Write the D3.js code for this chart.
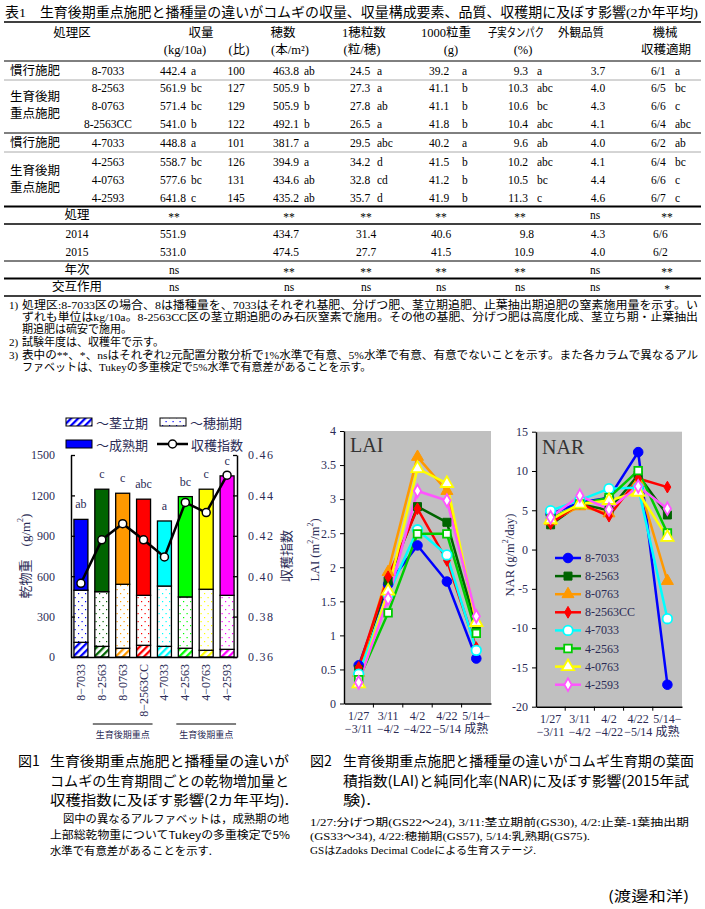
<!DOCTYPE html>
<html><head><meta charset="utf-8">
<script src="https://cdn.jsdelivr.net/npm/d3@7"></script>
<style>body{margin:0;background:#fff}svg{display:block}</style>
</head><body>
<svg id="c" width="705" height="909"></svg>
<script>
// ================= DATA =================
const tableTitle = "表1　生育後期重点施肥と播種量の違いがコムギの収量、収量構成要素、品質、収穫期に及ぼす影響(2か年平均)";
const treatments = ["8-7033","8-2563","8-0763","8-2563CC","4-7033","4-2563","4-0763","4-2593"];
const yieldVals = ["442.4","561.9","571.4","541.0","448.8","558.7","577.6","641.8"];
const yieldLetters = ["a","bc","bc","b","a","bc","bc","c"];
const yieldRatio = ["100","127","129","122","101","126","131","145"];
const earVals = ["463.8","505.9","505.9","492.1","381.7","394.9","434.6","435.2"];
const earLetters = ["ab","b","b","b","a","a","ab","ab"];
const grainVals = ["24.5","27.3","27.8","26.5","29.5","34.2","32.8","35.7"];
const grainLetters = ["a","a","ab","a","abc","d","cd","d"];
const kernelVals = ["39.2","41.1","41.1","41.8","40.2","41.5","41.2","41.9"];
const kernelLetters = ["a","b","b","b","a","b","b","b"];
const proteinVals = ["9.3","10.3","10.6","10.4","9.6","10.2","10.5","11.3"];
const proteinLetters = ["a","abc","bc","abc","ab","abc","bc","c"];
const appearanceVals = ["3.7","4.0","4.3","4.1","4.0","4.1","4.4","4.6"];
const harvestDates = ["6/1","6/5","6/6","6/4","6/2","6/4","6/6","6/7"];
const harvestLetters = ["a","bc","c","abc","ab","bc","c","c"];
const anovaTreatment = ["**","**","**","**","**","ns","**"];
const anovaYear = ["ns","**","**","**","**","ns","**"];
const anovaInteraction = ["ns","ns","ns","ns","ns","ns","*"];
const years = ["2014","2015"];
const year2014 = ["551.9","434.7","31.4","40.6","9.8","4.3","6/6"];
const year2015 = ["531.0","474.5","27.7","41.5","10.9","4.0","6/2"];
const footnotes = [
  "処理区:8-7033区の場合、8は播種量を、7033はそれぞれ基肥、分げつ肥、茎立期追肥、止葉抽出期追肥の窒素施用量を示す。い",
  "ずれも単位はkg/10a。8-2563CC区の茎立期追肥のみ石灰窒素で施用。その他の基肥、分げつ肥は高度化成、茎立ち期・止葉抽出",
  "期追肥は硫安で施用。",
  "試験年度は、収穫年で示す。",
  "表中の**、*、nsはそれぞれ2元配置分散分析で1%水準で有意、5%水準で有意、有意でないことを示す。また各カラムで異なるアル",
  "ファベットは、Tukeyの多重検定で5%水準で有意差があることを示す。"
];

// Figure 1 (dry matter increments, g/m2, and harvest index)
const stemInc = [109, 79, 65, 87, 79, 65, 50, 57];
const headingInc = [387, 406, 475, 371, 448, 381, 453, 401];
const maturityInc = [526, 761, 676, 714, 483, 745, 743, 887];
const harvestIndex = [0.3965, 0.418, 0.426, 0.418, 0.4095, 0.4365, 0.4315, 0.450];
const sigLetters = ["ab","c","c","abc","a","bc","c","c"];
const barColors = ["#0000ff","#006400","#ff9900","#ff0000","#00ffff","#00ff00","#ffff00","#ff00ff"];
const dmTicks = [0, 300, 600, 900, 1200, 1500];
const hiTicks = [0.36, 0.38, 0.40, 0.42, 0.44, 0.46];

// Figure 2 (LAI, NAR)
const periodsA = ["1/27","3/11","4/2","4/22","5/14−"];
const periodsB = ["−3/11","−4/2","−4/22","−5/14","成熟"];
const lai7033_8 = [0.56, 1.75, 2.32, 1.79, 0.66];
const lai2563_8 = [0.50, 1.80, 2.89, 2.66, 1.12];
const lai0763_8 = [0.45, 1.93, 3.62, 3.12, 1.20];
const lai2563CC_8 = [0.53, 1.86, 2.86, 2.10, 0.82];
const lai7033_4 = [0.43, 1.60, 2.55, 2.18, 0.78];
const lai2563_4 = [0.35, 1.33, 2.49, 2.49, 1.03];
const lai0763_4 = [0.29, 1.65, 3.45, 3.23, 1.19];
const lai2593_4 = [0.31, 1.54, 3.12, 2.98, 1.28];
const nar7033_8 = [4.5, 6.0, 6.6, 12.4, -17.2];
const nar2563_8 = [3.15, 5.8, 5.0, 9.5, 4.4];
const nar0763_8 = [3.6, 5.5, 4.6, 8.6, -4.0];
const nar2563CC_8 = [3.3, 5.9, 4.25, 9.05, 7.95];
const nar7033_4 = [4.95, 6.3, 7.75, 7.9, -8.8];
const nar2563_4 = [3.9, 5.8, 6.6, 10.05, 2.1];
const nar0763_4 = [3.8, 5.8, 6.25, 7.3, 1.55];
const nar2593_4 = [4.1, 6.85, 5.1, 8.05, 5.2];
const laiTicks = [0, 0.5, 1, 1.5, 2, 2.5, 3, 3.5, 4];
const narTicks = [-20, -15, -10, -5, 0, 5, 10, 15];
const lineColors = ["#0000ff","#006400","#ff9900","#ff0000","#00ffff","#00cc00","#ffff00","#ff55ff"];

// ================= STYLE =================
const MIX = "'Liberation Serif','Noto Sans CJK JP',serif";
const JP = "'Noto Sans CJK JP',sans-serif";
const SERIF = "'Liberation Serif','DejaVu Serif',serif";
const AX = "#2b2b55";

const svg = d3.select("#c");
svg.append("rect").attr("width",705).attr("height",909).attr("fill","#fff");
const defs = svg.append("defs");

function T(g, x, y, s, o = {}) {
  const t = g.append("text").attr("x", x).attr("y", y)
    .attr("dominant-baseline", "central")
    .attr("font-family", o.ff || MIX).attr("font-size", o.fs || 12)
    .attr("fill", o.fill || "#000")
    .attr("text-anchor", o.anchor || "start").text(s);
  if (o.len) t.attr("textLength", o.len).attr("lengthAdjust", "spacingAndGlyphs");
  return t;
}

// ================= TABLE =================
const tb = svg.append("g");
T(tb, 5, 12, tableTitle, {ff: MIX, fs: 13.5, len: 693});
const hLines = [[22,1.6,"#000"],[61,1,"#000"],[80,1,"#aaa"],[133,1,"#000"],[152,1,"#aaa"],
  [206.5,2,"#000"],[224,1.5,"#000"],[261,1,"#000"],[278.5,2,"#000"],[296,1.5,"#000"]];
hLines.forEach(([y,w,c]) => tb.append("line").attr("x1",4).attr("x2",701).attr("y1",y).attr("y2",y).attr("stroke",c).attr("stroke-width",w));

const hdr = [["処理区",72,33],["収量",201,33],["(kg/10a)",185,50],["(比)",239,50],["穂数",283,33],["(本/m²)",290,50],
  ["1穂粒数",364,33],["(粒/穂)",362,50],["1000粒重",446,33],["(g)",451,50],["(%)",523,50],
  ["機械",665,33],["収穫適期",666,50]];
hdr.forEach(([s,x,y]) => T(tb, x, y, s, {anchor:"middle", fs:12.5}));
T(tb, 488, 33, "子実タンパク", {fs:12, len:56});
T(tb, 558, 33, "外観品質", {fs:12, len:46});

const rowY = [71, 88, 106, 124, 143, 162, 180, 198];
[["慣行施肥",71],["生育後期",97],["重点施肥",114],["慣行施肥",143],["生育後期",171],["重点施肥",188]]
  .forEach(([s,y]) => T(tb, 10, y, s, {fs:12.5}));
const NF = 11.5;
const cols = [
  {vals: yieldVals, lets: yieldLetters, vx:160, lx:191},
  {vals: yieldRatio, vx:236, anchor:"middle"},
  {vals: earVals, lets: earLetters, vx:273, lx:304},
  {vals: grainVals, lets: grainLetters, vx:350, lx:377},
  {vals: kernelVals, lets: kernelLetters, vx:429, lx:462},
  {vals: proteinVals, lets: proteinLetters, vx:528, lx:537, anchor:"end"},
  {vals: appearanceVals, vx:598, anchor:"middle"},
  {vals: harvestDates, lets: harvestLetters, vx:651, lx:675}
];
treatments.forEach((tr,i) => {
  T(tb, 108, rowY[i], tr, {anchor:"middle", fs:NF});
  cols.forEach(c => {
    T(tb, c.vx, rowY[i], c.vals[i], {fs:NF, anchor:c.anchor||"start"});
    if (c.lets) T(tb, c.lx, rowY[i], c.lets[i], {fs:NF});
  });
});
const sigX = [174, 289, 366, 441, 520, 595, 667];
[[anovaTreatment,"処理",215],[anovaYear,"年次",270],[anovaInteraction,"交互作用",287]].forEach(([arr,lab,y]) => {
  T(tb, 77, y, lab, {anchor:"middle", fs:12.5});
  arr.forEach((s,j) => T(tb, sigX[j], y + (s.includes("*")?2:0), s, {anchor:"middle", fs:NF}));
});
const yrX = [[160,"start"],[273,"start"],[356,"start"],[431,"start"],[534,"end"],[598,"middle"],[653,"start"]];
[[year2014,234],[year2015,252]].forEach(([arr,y],k) => {
  T(tb, 77, y, years[k], {anchor:"middle", fs:NF});
  arr.forEach((s,j) => T(tb, yrX[j][0], y, s, {anchor:yrX[j][1], fs:NF}));
});
// footnotes
T(tb, 9, 305, "1)", {fs:11});
T(tb, 22, 305, footnotes[0], {fs:11, len:676});
T(tb, 22, 317, footnotes[1], {fs:11, len:676});
T(tb, 22, 329, footnotes[2], {fs:11});
T(tb, 9, 342, "2)", {fs:11});
T(tb, 22, 342, footnotes[3], {fs:11});
T(tb, 9, 355, "3)", {fs:11});
T(tb, 22, 355, footnotes[4], {fs:11, len:676});
T(tb, 22, 367, footnotes[5], {fs:11});

// ================= FIGURE 1 =================
barColors.forEach((c,i) => {
  const h = defs.append("pattern").attr("id","hatch"+i).attr("patternUnits","userSpaceOnUse")
    .attr("width",5).attr("height",5).attr("patternTransform","rotate(45)");
  h.append("rect").attr("width",5).attr("height",5).attr("fill","#fff");
  h.append("rect").attr("width",2.3).attr("height",5).attr("fill",c);
  const d = defs.append("pattern").attr("id","dots"+i).attr("patternUnits","userSpaceOnUse")
    .attr("width",7).attr("height",8);
  d.append("rect").attr("width",7).attr("height",8).attr("fill","#fff");
  d.append("rect").attr("x",1).attr("y",1).attr("width",1.2).attr("height",1.2).attr("fill",c);
  d.append("rect").attr("x",4.5).attr("y",5).attr("width",1.2).attr("height",1.2).attr("fill",c);
});
const f1 = svg.append("g");
const xB = d3.scaleBand().domain(treatments).range([71,237]).paddingInner(0.33).paddingOuter(0.14);
const yB = d3.scaleLinear().domain([0,1500]).range([657,455]);
const yHI = d3.scaleLinear().domain([0.36,0.46]).range([657,455]);
const barData = treatments.map((t,i) => ({t, i, stem: stemInc[i], heading: headingInc[i], maturity: maturityInc[i]}));
const stack = d3.stack().keys(["stem","heading","maturity"])(barData);
const fillFor = (key,i) => key === "stem" ? `url(#hatch${i})` : key === "heading" ? `url(#dots${i})` : barColors[i];
stack.forEach(layer => {
  f1.append("g").selectAll("rect").data(layer).join("rect")
    .attr("x", d => xB(d.data.t)).attr("width", xB.bandwidth())
    .attr("y", d => yB(d[1])).attr("height", d => yB(d[0]) - yB(d[1]))
    .attr("fill", d => fillFor(layer.key, d.data.i))
    .attr("stroke", "#000").attr("stroke-width", 1.3);
});
f1.selectAll("text.sig").data(barData).join("text").attr("class","sig")
  .attr("x", d => xB(d.t) + xB.bandwidth()/2)
  .attr("y", d => yB(d.stem + d.heading + d.maturity) - 15)
  .attr("text-anchor","middle").attr("dominant-baseline","central")
  .attr("font-family", SERIF).attr("font-size", 12).attr("fill", AX)
  .text((d,i) => sigLetters[i]);
const axL = f1.append("g").attr("transform","translate(71,0)")
  .call(d3.axisLeft(yB).tickValues(dmTicks).tickSizeInner(-4).tickSizeOuter(0).tickPadding(16).tickFormat(d3.format("d")));
const axR = f1.append("g").attr("transform","translate(237,0)")
  .call(d3.axisRight(yHI).tickValues(hiTicks).tickSizeInner(-4).tickSizeOuter(0).tickPadding(11).tickFormat(d3.format(".2f")));
axR.selectAll("text").attr("letter-spacing", 1.3);
[axL, axR].forEach(a => {
  a.selectAll("text").attr("font-family", SERIF).attr("font-size", 12).attr("fill", AX);
  a.select(".domain").attr("stroke","#000").attr("stroke-width",1.5);
  a.selectAll(".tick line").attr("stroke","#000").attr("stroke-width",1.3);
});
const axBot = f1.append("g").attr("transform","translate(0,657)")
  .call(d3.axisBottom(xB).tickSize(0).tickFormat(""));
axBot.select(".domain").attr("stroke","#000").attr("stroke-width",1.5);
const hiLine = d3.line().x((v,i) => xB(treatments[i]) + xB.bandwidth()/2).y(v => yHI(v));
f1.append("path").attr("d", hiLine(harvestIndex)).attr("fill","none").attr("stroke","#000").attr("stroke-width",2.5);
f1.selectAll("circle.hi").data(harvestIndex).join("circle").attr("class","hi")
  .attr("cx", (v,i) => xB(treatments[i]) + xB.bandwidth()/2).attr("cy", v => yHI(v))
  .attr("r", 4).attr("fill","#fff").attr("stroke","#000").attr("stroke-width",1.5);
treatments.forEach(t => {
  f1.append("text").attr("transform", `translate(${xB(t)+xB.bandwidth()/2},664) rotate(-90)`)
    .attr("text-anchor","end").attr("dominant-baseline","central")
    .attr("font-family", SERIF).attr("font-size", 12).attr("fill", AX).text(t.replace("-","−"));
});
[[1,3],[5,7]].forEach(([a,b]) => {
  const x1 = xB(treatments[a]) - 2, x2 = xB(treatments[b]) + xB.bandwidth() + 2;
  f1.append("line").attr("x1",x1).attr("x2",x2).attr("y1",724).attr("y2",724).attr("stroke","#000").attr("stroke-width",1);
  T(f1, (x1+x2)/2, 734, "生育後期重点", {ff: JP, fs: 9, anchor:"middle", fill: AX});
});
const yl = f1.append("text").attr("transform","translate(25,556) rotate(-90)")
  .attr("text-anchor","middle").attr("dominant-baseline","central")
  .attr("font-family", MIX).attr("font-size", 13).attr("fill", AX);
yl.append("tspan").text("乾物重　(g/m");
yl.append("tspan").attr("font-size",8).attr("dy",-5).text("2");
yl.append("tspan").attr("dy",5).text(")");
f1.append("text").attr("transform","translate(285,556) rotate(-90)")
  .attr("text-anchor","middle").attr("dominant-baseline","central")
  .attr("font-family", JP).attr("font-size", 13).attr("fill", AX).text("収穫指数");
f1.append("rect").attr("x",66).attr("y",418).attr("width",26).attr("height",8).attr("fill","url(#hatch0)").attr("stroke","#000");
T(f1, 96, 422, "～茎立期", {ff: JP, fs: 13, fill: AX});
f1.append("rect").attr("x",160).attr("y",418).attr("width",26).attr("height",8).attr("fill","url(#dots0)").attr("stroke","#000");
T(f1, 190, 422, "～穂揃期", {ff: JP, fs: 13, fill: AX});
f1.append("rect").attr("x",66).attr("y",440).attr("width",26).attr("height",8).attr("fill",barColors[0]).attr("stroke","#000");
T(f1, 96, 444, "～成熟期", {ff: JP, fs: 13, fill: AX});
f1.append("line").attr("x1",157).attr("x2",188).attr("y1",444).attr("y2",444).attr("stroke","#000").attr("stroke-width",2.5);
f1.append("circle").attr("cx",172.5).attr("cy",444).attr("r",4).attr("fill","#fff").attr("stroke","#000").attr("stroke-width",1.5);
T(f1, 191, 444, "収穫指数", {ff: JP, fs: 13, fill: AX});

// ================= FIGURE 2 =================
const shapes = [d3.symbolCircle, d3.symbolSquare, d3.symbolTriangle, d3.symbolDiamond,
                d3.symbolCircle, d3.symbolSquare, d3.symbolTriangle, d3.symbolDiamond];
const sizes = [72, 64, 62, 40, 72, 58, 66, 46];
const filled = [true, true, true, true, false, false, false, false];
const laiSeries = [lai7033_8, lai2563_8, lai0763_8, lai2563CC_8, lai7033_4, lai2563_4, lai0763_4, lai2593_4];
const narSeries = [nar7033_8, nar2563_8, nar0763_8, nar2563CC_8, nar7033_4, nar2563_4, nar0763_4, nar2593_4];

function drawMarker(g, x, y, i) {
  g.append("path").attr("d", d3.symbol().type(shapes[i]).size(sizes[i])())
    .attr("transform", `translate(${x},${y})`)
    .attr("fill", filled[i] ? lineColors[i] : "#fff")
    .attr("stroke", lineColors[i]).attr("stroke-width", filled[i] ? 1 : 1.8);
}

function panel(x0, x1, yScale, ticks, series, title, titleY, ylab, ylabX, ylabY, legend) {
  const g = svg.append("g");
  const xs = d3.scaleBand().domain(periodsA).range([x0, x1]);
  const [yb, yt] = yScale.range();
  g.append("rect").attr("x", x0).attr("y", yt).attr("width", x1 - x0).attr("height", yb - yt).attr("fill", "#c0c0c0");
  const ax = g.append("g").attr("transform", `translate(${x0},0)`)
    .call(d3.axisLeft(yScale).tickValues(ticks).tickSize(4).tickSizeOuter(0).tickPadding(4).tickFormat(d => String(d)));
  ax.selectAll("text").attr("font-family", SERIF).attr("font-size", 12).attr("fill", AX);
  ax.select(".domain").attr("stroke", "#000").attr("stroke-width", 1.4);
  ax.selectAll(".tick line").attr("stroke", "#000");
  const bx = g.append("g").attr("transform", `translate(0,${yb})`)
    .call(d3.axisBottom(xs).tickSize(0).tickFormat(""));
  bx.select(".domain").attr("stroke", "#000").attr("stroke-width", 1.4);
  periodsA.forEach((p, j) => {
    if (j > 0) g.append("line").attr("x1", xs(p)).attr("x2", xs(p)).attr("y1", yb).attr("y2", yb + 4).attr("stroke", "#000");
    const cx = xs(p) + xs.bandwidth() / 2;
    T(g, cx, yb + 12.5, p, {ff: MIX, fs: 12, anchor: "middle", fill: AX});
    T(g, cx, yb + 25.5, periodsB[j], {ff: MIX, fs: 12, anchor: "middle", fill: AX});
  });
  const line = d3.line().x((v, j) => xs(periodsA[j]) + xs.bandwidth() / 2).y(v => yScale(v));
  series.forEach((s, i) => {
    g.append("path").attr("d", line(s)).attr("fill", "none").attr("stroke", lineColors[i]).attr("stroke-width", 2.5);
  });
  series.forEach((s, i) => {
    s.forEach((v, j) => drawMarker(g, xs(periodsA[j]) + xs.bandwidth() / 2, yScale(v), i));
  });
  T(g, x0 + 6, titleY, title, {ff: SERIF, fs: 20, fill: "#333"});
  const yl = g.append("text").attr("transform", `translate(${ylabX},${ylabY}) rotate(-90)`)
    .attr("text-anchor", "middle").attr("dominant-baseline", "central")
    .attr("font-family", SERIF).attr("font-size", 12.5).attr("fill", AX);
  let shift = 0;
  ylab.forEach(([s, sup]) => {
    const ts = yl.append("tspan").text(s);
    if (sup) { ts.attr("font-size", 8).attr("dy", -5); shift = 5; }
    else if (shift) { ts.attr("dy", shift); shift = 0; }
  });
  if (legend) {
    treatments.forEach((t, i) => {
      const ly = legend.y + i * 18.1;
      g.append("line").attr("x1", legend.x).attr("x2", legend.x + 26).attr("y1", ly).attr("y2", ly)
        .attr("stroke", lineColors[i]).attr("stroke-width", 2.5);
      drawMarker(g, legend.x + 13, ly, i);
      T(g, legend.x + 30, ly, t, {ff: SERIF, fs: 12, fill: AX});
    });
  }
}
const yLAI = d3.scaleLinear().domain([0, 4]).range([703.5, 431]);
panel(344, 491, yLAI, laiTicks, laiSeries, "LAI", 445,
  [["LAI (m"], ["2", true], ["/m"], ["2", true], [")"]], 315, 550, null);
const yNAR = d3.scaleLinear().domain([-20, 15]).range([706.7, 431.7]);
panel(536, 682, yNAR, narTicks, narSeries, "NAR", 447,
  [["NAR (g/m"], ["2", true], ["/day)"]], 510, 555, {x: 555, y: 558});

// ================= CAPTIONS =================
const cp = svg.append("g");
T(cp, 18, 760, "図1", {ff: JP, fs: 14});
T(cp, 50, 760, "生育後期重点施肥と播種量の違いが", {ff: JP, fs: 14, len: 239});
T(cp, 50, 780, "コムギの生育期間ごとの乾物増加量と", {ff: JP, fs: 14, len: 239});
T(cp, 50, 799, "収穫指数に及ぼす影響(2カ年平均).", {ff: JP, fs: 14, len: 239});
T(cp, 63, 818, "図中の異なるアルファベットは，成熟期の地", {ff: JP, fs: 11, len: 226});
T(cp, 50, 834, "上部総乾物重についてTukeyの多重検定で5%", {ff: JP, fs: 11, len: 240});
T(cp, 50, 850, "水準で有意差があることを示す.", {ff: JP, fs: 11, len: 162});
T(cp, 310, 760, "図2", {ff: JP, fs: 14});
T(cp, 343, 760, "生育後期重点施肥と播種量の違いがコムギ生育期の葉面", {ff: JP, fs: 14, len: 351});
T(cp, 343, 780, "積指数(LAI)と純同化率(NAR)に及ぼす影響(2015年試", {ff: JP, fs: 14, len: 346});
T(cp, 343, 799, "験).", {ff: JP, fs: 14, len: 28});
T(cp, 310, 822, "1/27:分げつ期(GS22～24), 3/11:茎立期前(GS30), 4/2:止葉-1葉抽出期", {ff: MIX, fs: 10.5, len: 379});
T(cp, 310, 836, "(GS33～34), 4/22:穂揃期(GS57), 5/14:乳熟期(GS75).", {ff: MIX, fs: 10.5, len: 280});
T(cp, 310, 850, "GSはZadoks Decimal Codeによる生育ステージ.", {ff: MIX, fs: 10.5, len: 226});
T(cp, 608, 895, "(渡邊和洋)", {ff: JP, fs: 14, len: 81});
</script>
</body></html>
